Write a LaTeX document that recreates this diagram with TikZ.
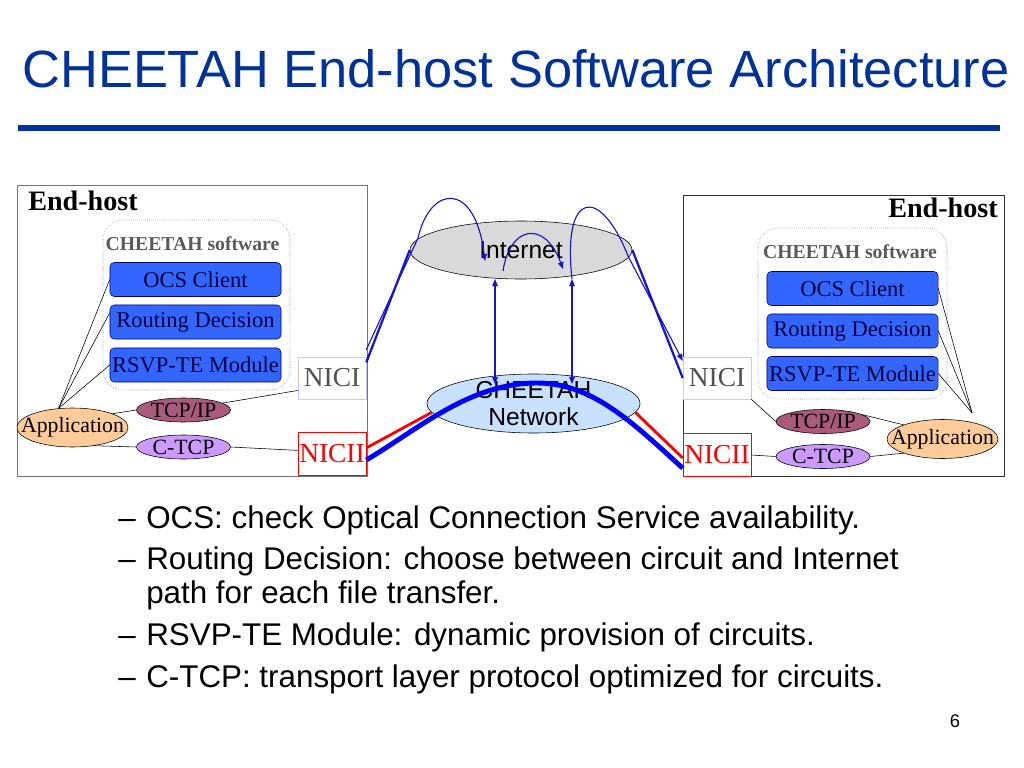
\documentclass[tikz,border=0pt]{standalone}
\usepackage{fontspec}
\setmainfont{Liberation Serif}
\setsansfont{Liberation Sans}
\usetikzlibrary{shapes.geometric, arrows.meta, positioning}
\definecolor{titleblue}{RGB}{0,51,153}
\definecolor{moduleblue}{RGB}{51,102,255}
\definecolor{moduleline}{RGB}{0,0,110}
\definecolor{moduletext}{RGB}{0,0,60}
\definecolor{nicline}{RGB}{200,200,255}
\definecolor{nictext}{RGB}{80,80,80}
\definecolor{tcpfill}{RGB}{170,90,125}
\definecolor{ctcpfill}{RGB}{204,153,255}
\definecolor{appfill}{RGB}{255,204,153}
\definecolor{inetfill}{RGB}{217,217,217}
\definecolor{netfill}{RGB}{200,225,255}
\definecolor{linkblue}{RGB}{20,20,210}

\begin{document}
\begin{tikzpicture}[x=0.025cm, y=-0.025cm,
    >={Triangle[length=5pt,width=4pt]},
    module/.style={draw=moduleline, rounded corners=3pt, fill=moduleblue,
                   minimum width=4.275cm, minimum height=0.85cm, inner sep=0pt,
                   font=\fontsize{16}{18}\selectfont, text=moduletext},
    nic/.style={draw=nicline, minimum width=1.7cm, minimum height=1.05cm, inner sep=0pt,
                font=\fontsize{19.5}{21}\selectfont, text=nictext},
    nicii/.style={draw=red, minimum width=1.7cm, minimum height=1.075cm, inner sep=0pt,
                  font=\fontsize{19.5}{21}\selectfont, text=red},
    proto/.style={ellipse, draw=black, inner sep=0pt, minimum width=2.35cm, minimum height=0.6cm},
    app/.style={ellipse, draw=black, fill=appfill, inner sep=0pt,
                minimum width=2.775cm, minimum height=0.975cm},
    cloud/.style={ellipse, draw=black, inner sep=0pt, minimum height=1.45cm},
    ovaltext/.style={font=\fontsize{15.5}{17}\selectfont, text=black},
    cloudtext/.style={font=\fontsize{17.5}{19}\selectfont\sffamily, align=center},
    swbox/.style={draw=gray, densely dotted, rounded corners=14pt},
    hosttitle/.style={font=\fontsize{20}{22}\selectfont\bfseries},
    swtitle/.style={font=\fontsize{14}{16}\selectfont\bfseries, text=black!65},
    bullet/.style={anchor=base west, inner sep=0pt, font=\fontsize{22.3}{24}\selectfont\sffamily},
    netlink/.style={draw=linkblue, line width=0.8pt}
]
    \useasboundingbox (0,0) rectangle (1024,768);

    \node[anchor=base west, font=\fontsize{37.3}{40}\selectfont\sffamily, text=titleblue, inner sep=0pt]
        (title) at (22,88) {CHEETAH End-host Software Architecture};
    \fill[titleblue] (18,125) rectangle (1000,131);

    % left end-host
    \draw[gray!90!black] (17,185) rectangle (367,476);
    \node[hosttitle, anchor=base west, inner sep=0pt] (lhost) at (28,210) {End-host};
    \draw[swbox] (103,220) rectangle (290,390);
    \node[swtitle, anchor=base, inner sep=0pt] (lsw) at (192.5,250) {CHEETAH software};
    \node[module] (locs) at (195.5,279.5) {OCS Client};
    \node[module] (lrout) at (195.5,322) {Routing Decision};
    \node[module] (lrsvp) at (195.5,365) {RSVP-TE Module};
    \node[nic] (lnici) at (332,378) {NICI};
    \node[nicii] (lnicii) at (332,454) {NICII};
    \node[proto, fill=tcpfill, label={[ovaltext]center:TCP/IP}] (ltcp) at (183.5,410) {};
    \node[proto, fill=ctcpfill, label={[ovaltext]center:C-TCP}] (lctcp) at (183.5,447) {};
    \node[app, label={[ovaltext]center:Application}] (lapp) at (72.5,427.5) {};

    \draw (lapp.126) -- (locs.west);
    \draw (lapp.126) -- (lrout.174);
    \draw (lapp.126) -- (lrsvp.west);
    \draw (lapp.19) -- (ltcp.west);
    \draw (ltcp.10) -- (lnici.200);
    \draw (lapp.-40) -- (lctcp.west);
    \draw (lctcp.east) -- (lnicii.174);

    % right end-host
    \draw[black!80] (683,195) rectangle (1004,476);
    \node[hosttitle, anchor=base east, inner sep=0pt] (rhost) at (998,217) {End-host};
    \draw[swbox] (758,228) rectangle (947,399);
    \node[swtitle, anchor=base, inner sep=0pt] (rsw) at (850,258) {CHEETAH software};
    \node[module] (rocs) at (852.5,288.5) {OCS Client};
    \node[module] (rrout) at (852.5,331) {Routing Decision};
    \node[module] (rrsvp) at (852.5,373.5) {RSVP-TE Module};
    \node[nic] (rnici) at (717,378) {NICI};
    \node[nicii] (rnicii) at (717,455) {NICII};
    \node[proto, fill=tcpfill, label={[ovaltext]center:TCP/IP}] (rtcp) at (823,421.5) {};
    \node[proto, fill=ctcpfill, label={[ovaltext]center:C-TCP}] (rctcp) at (823,456.5) {};
    \node[app, label={[ovaltext]center:Application}] (rapp) at (942.5,439) {};

    \draw ([xshift=21pt,yshift=4.5pt]rapp.north) -- (rocs.east);
    \draw ([xshift=21pt,yshift=4.5pt]rapp.north) -- (rrout.east);
    \draw ([xshift=21pt,yshift=4.5pt]rapp.north) -- (rrsvp.east);
    \draw (rtcp.10) -- (rapp.160);
    \draw (rctcp.east) -- (rapp.200);
    \draw (rnici.south east) -- (rtcp.west);
    \draw (rnicii.east) -- (rctcp.west);

    % networks
    \node[cloud, fill=inetfill, minimum width=5.55cm,
          label={[cloudtext]center:Internet}] (inet) at (521,250) {};
    \node[cloud, fill=netfill, minimum width=5.325cm, minimum height=1.475cm,
          label={[cloudtext]center:CHEETAH\\Network}] (net) at (533.5,403.5) {};

    \coordinate (lup) at (495,279);
    \coordinate (ldn) at (495,384);
    \coordinate (rup) at (572,279);
    \coordinate (rdn) at (572,384);
    \coordinate (hopa) at (503,271);
    \coordinate (hopb) at (563,269);
    \coordinate (lin) at (485,261);
    \coordinate (lturn) at (418,238);
    \coordinate (rturn) at (628,256);
    \coordinate (top) at (537,383);

    \draw[red, line width=2pt] (lnicii.10) -- (net.185);
    \draw[red, line width=2pt] (net.355) -- (rnicii.185);
    \draw[blue, line width=3.5pt] (lnicii.-10) .. controls (420,428) and (470,383) .. (top)
        .. controls (592,383) and (632,422) .. (rnicii.201);

    \draw[netlink, <->] (lup) -- (ldn);
    \draw[netlink, <->] (rup) -- (rdn);
    \draw[netlink, ->] (hopa) .. controls (510,225) and (545,220) .. (hopb);
    \draw[netlink, ->] ([yshift=5pt]lnici.north east) -- (lturn)
        .. controls (430,185) and (475,180) .. (lin);
    \draw[netlink, line width=1.6pt] ([yshift=-4pt]lnici.north east) -- (inet.west);
    \draw[netlink, ->] (rup) .. controls (562,190) and (600,185) .. (rturn)
        -- ([yshift=-3pt]rnici.north west);
    \draw[netlink, line width=1.6pt] (inet.east) -- (rnici.west);

    % notes
    \node[bullet] (d1) at (118,528) {--};
    \node[bullet] (b1) at (146,528) {OCS: check Optical Connection Service availability.};
    \node[bullet] (d2) at (118,569) {--};
    \node[bullet] (b2) at (146,569) {Routing Decision: choose between circuit and Internet};
    \node[bullet] (b2x) at (146,603) {path for each file transfer.};
    \node[bullet] (d3) at (118,645) {--};
    \node[bullet] (b3) at (146,645) {RSVP-TE Module: dynamic provision of circuits.};
    \node[bullet] (d4) at (118,687) {--};
    \node[bullet] (b4) at (146,687) {C-TCP: transport layer protocol optimized for circuits.};

    \node[anchor=base, font=\fontsize{13}{15}\selectfont\sffamily] (page) at (955,727) {6};
\end{tikzpicture}
\end{document}
